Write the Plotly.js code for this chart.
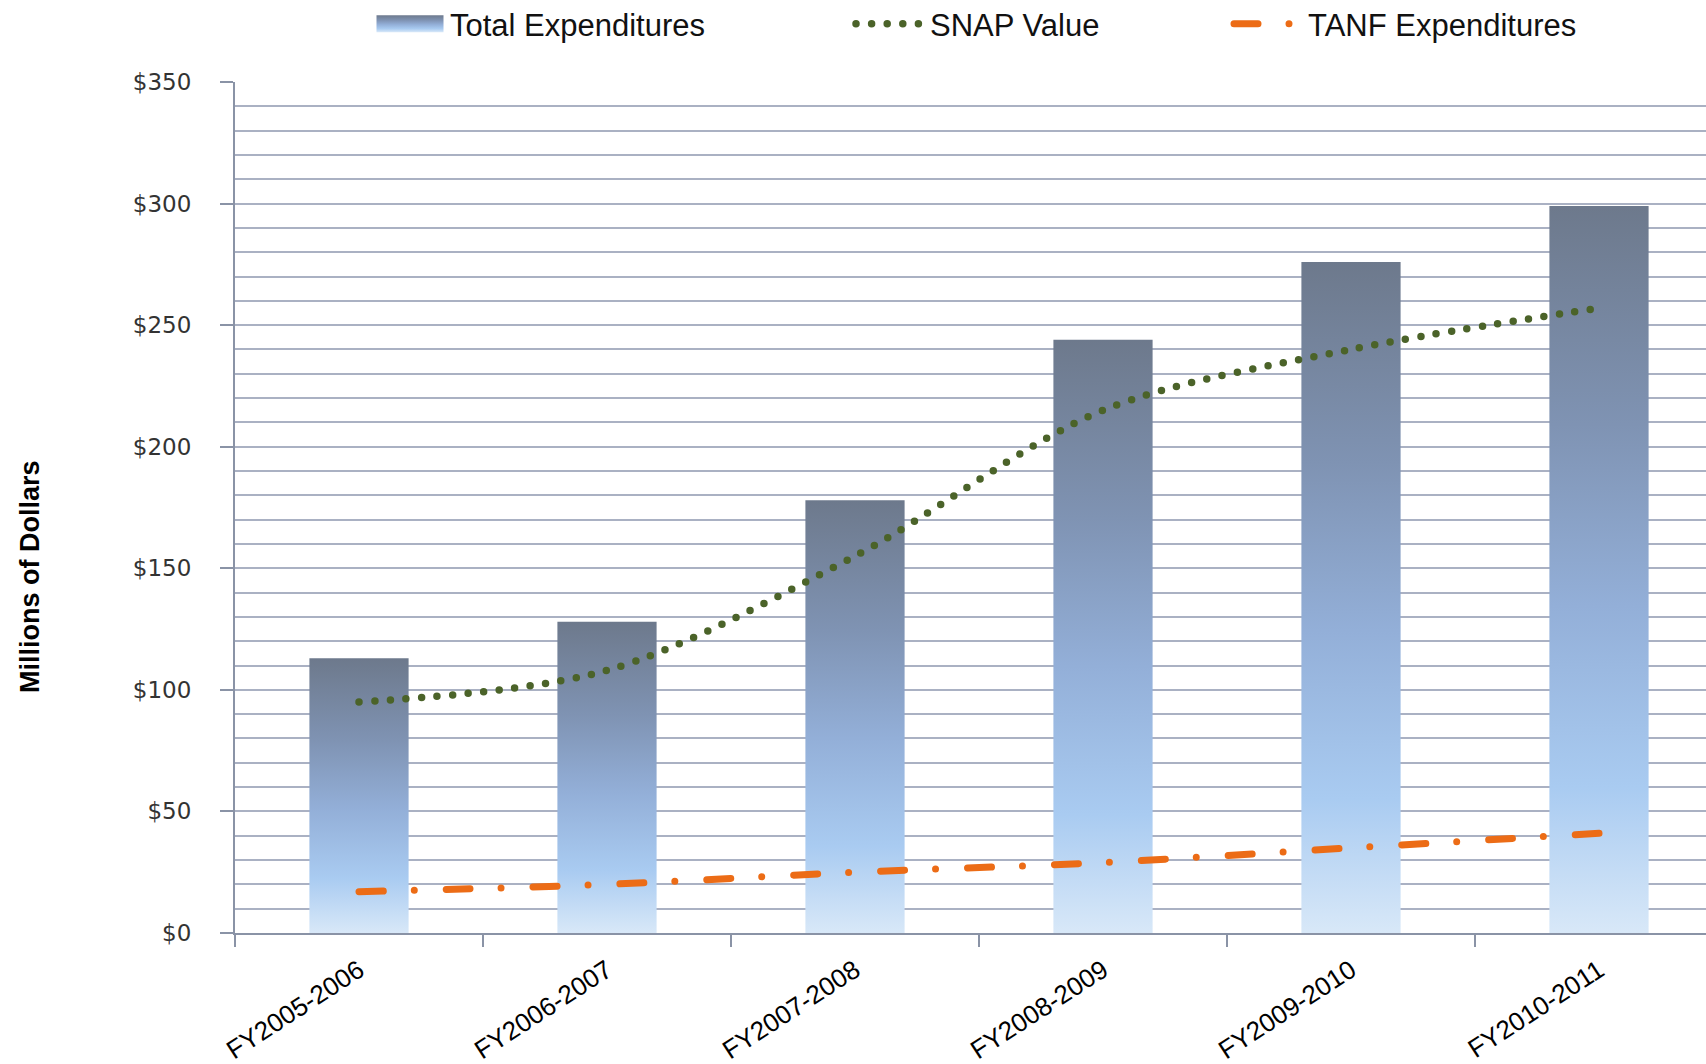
<!DOCTYPE html>
<html>
<head>
<meta charset="utf-8">
<script src="https://cdn.plot.ly/plotly-3.0.1.min.js"></script>
<style>
  html, body { margin: 0; padding: 0; background: #fff; }
  #chart { width: 1706px; height: 1064px; }
</style>
</head>
<body>
<div id="chart"></div>
<script>
// ---- data ----
var categories = ["FY2005-2006", "FY2006-2007", "FY2007-2008", "FY2008-2009", "FY2009-2010", "FY2010-2011"];
var totalExpenditures = [113, 128, 178, 244, 276, 299];
var snapValue = [95, 108, 155, 215, 240, 257];
var tanfExpenditures = [17, 20, 25, 29, 35, 41];
var yTickValues = [0, 50, 100, 150, 200, 250, 300, 350];
var yTickLabels = ["$0", "$50", "$100", "$150", "$200", "$250", "$300", "$350"];
var yTitle = "Millions of Dollars";

var W = 1706, H = 1064;
var axisLeft = 235, axisTop = 82, axisBottom = 933;
var catPx = 248;
var xEnd = -0.5 + (W - axisLeft) / catPx;
var plotW = W - axisLeft, plotH = axisBottom - axisTop;

var traces = [
  {
    type: "bar", name: "Total Expenditures",
    x: categories, y: totalExpenditures,
    width: 0.4,
    marker: { color: "#8ea8cf", line: { width: 0 } },
    legend: "legend",
    hoverinfo: "skip"
  },
  {
    type: "scatter", mode: "lines", name: "SNAP Value",
    x: categories, y: snapValue,
    line: { color: "#4b6329", width: 7.5, shape: "spline", smoothing: 0.9, dash: "0px,15.6px" },
    legend: "legend2",
    hoverinfo: "skip"
  },
  {
    type: "scatter", mode: "lines", name: "TANF Expenditures",
    x: categories, y: tanfExpenditures,
    line: { color: "#ec6c16", width: 7, shape: "spline", smoothing: 1, dash: "24px,31px,0px,32px" },
    legend: "legend3",
    hoverinfo: "skip"
  }
];

var legendFont = { family: "Liberation Sans, Arial, sans-serif", size: 31, color: "#111" };
function legendAt(px) {
  return {
    xref: "container", yref: "container",
    x: px / W, y: 1 - 24 / H,
    xanchor: "left", yanchor: "middle",
    orientation: "h",
    bgcolor: "rgba(0,0,0,0)",
    borderwidth: 0,
    font: legendFont,
    itemwidth: 70,
    itemclick: false, itemdoubleclick: false
  };
}

var layout = {
  width: W, height: H,
  paper_bgcolor: "#ffffff",
  plot_bgcolor: "#ffffff",
  showlegend: true,
  margin: { l: axisLeft, r: 0, t: axisTop, b: H - axisBottom, pad: 0 },
  legend: legendAt(370),
  legend2: legendAt(850),
  legend3: legendAt(1228),
  xaxis: {
    type: "category",
    range: [-0.5, xEnd],
    showline: true, linecolor: "#8a93a6", linewidth: 2,
    ticks: "outside", tickson: "boundaries", ticklen: 12, tickcolor: "#8a93a6", tickwidth: 2,
    tickangle: -33,
    ticklabelstandoff: 10,
    tickfont: { family: "Liberation Sans, Arial, sans-serif", size: 26, color: "#000" },
    showgrid: false, zeroline: false,
    automargin: false,
    fixedrange: true
  },
  yaxis: {
    range: [0, 350],
    tickvals: yTickValues, ticktext: yTickLabels,
    showline: true, linecolor: "#8a93a6", linewidth: 2,
    ticks: "outside", ticklen: 13, tickcolor: "#8a93a6", tickwidth: 2,
    ticklabelstandoff: 24,
    tickfont: { family: "DejaVu Sans, sans-serif", size: 23, color: "#333" },
    showgrid: true, gridcolor: "#aab1c3", gridwidth: 2,
    minor: { dtick: 10, showgrid: true, gridcolor: "#aab1c3", gridwidth: 2, ticks: "" },
    zeroline: false,
    automargin: false,
    fixedrange: true
  },
  annotations: [{
    text: yTitle,
    xref: "paper", yref: "paper",
    x: (30 - axisLeft) / plotW, y: (axisBottom - 577) / plotH,
    xanchor: "center", yanchor: "middle",
    textangle: -90, showarrow: false,
    font: { family: "Liberation Sans, Arial, sans-serif", size: 27, color: "#000", weight: "bold" }
  }]
};

var gd = document.getElementById("chart");

function applyStyles() {
  var svg = gd.querySelector("svg.main-svg");
  if (!svg) return;
  var ns = "http://www.w3.org/2000/svg";
  var defs = svg.querySelector("defs");
  if (!defs) { defs = document.createElementNS(ns, "defs"); svg.insertBefore(defs, svg.firstChild); }
  if (!svg.querySelector("#barGrad")) {
    var g = document.createElementNS(ns, "linearGradient");
    g.setAttribute("id", "barGrad");
    g.setAttribute("x1", "0"); g.setAttribute("y1", "0");
    g.setAttribute("x2", "0"); g.setAttribute("y2", "1");
    var stops = [[0, "#6d798c"], [0.3, "#7f93b3"], [0.55, "#93afd8"], [0.8, "#a9cbf1"], [1, "#d8e8f8"]];
    stops.forEach(function (s) {
      var st = document.createElementNS(ns, "stop");
      st.setAttribute("offset", s[0]);
      st.setAttribute("stop-color", s[1]);
      g.appendChild(st);
    });
    defs.appendChild(g);
  }
  gd.querySelectorAll(".barlayer .point path").forEach(function (p) {
    p.style.fill = "url(#barGrad)";
  });
  // legend swatches: widen to match the original legend keys
  gd.querySelectorAll(".infolayer .legendpoints path").forEach(function (p) {
    p.setAttribute("d", "M33.5,8.5H-33.5V-8.5H33.5Z");
    p.style.fill = "url(#barGrad)";
  });
  gd.querySelectorAll(".infolayer path.js-line").forEach(function (p) {
    p.setAttribute("d", "M6,0h68");
  });
  gd.querySelectorAll(".scatterlayer path.js-line, .infolayer path.js-line").forEach(function (p) {
    p.style.strokeLinecap = "round";
  });
}

Plotly.newPlot(gd, traces, layout, { displayModeBar: false, staticPlot: true }).then(function () {
  applyStyles();
  gd.on && gd.on("plotly_afterplot", applyStyles);
});
</script>
</body>
</html>
